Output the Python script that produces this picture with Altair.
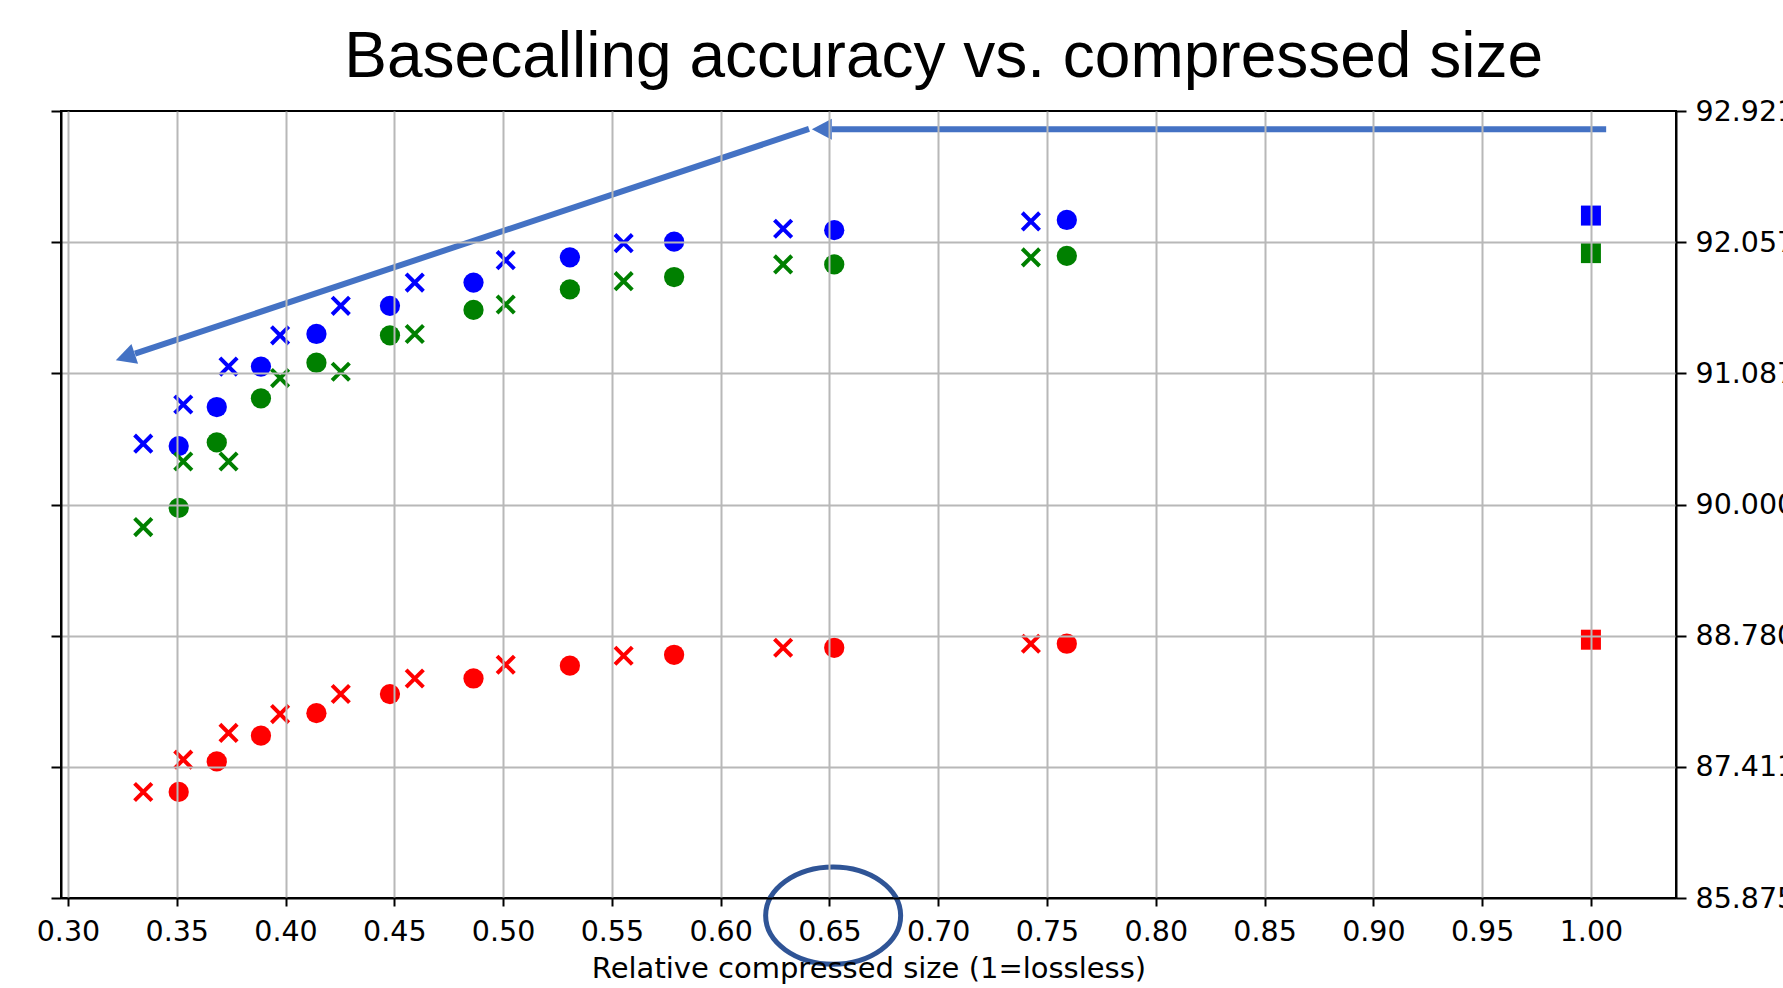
import altair as alt
import pandas as pd

# ---------------- data ----------------
TITLE = "Basecalling accuracy vs. compressed size"
X_TITLE = "Relative compressed size (1=lossless)"
series_names = ["series A", "series B", "series C"]
series_colors = ["#0000ff", "#008000", "#ff0000"]

x_cross = [0.3346, 0.3530, 0.3738, 0.3975, 0.4254, 0.4594, 0.5012, 0.5554, 0.6287, 0.7426]
x_circle = [0.3509, 0.3684, 0.3887, 0.4142, 0.4480, 0.4864, 0.5307, 0.5786, 0.6522, 0.7591]
x_square = [1.0]

a_cross = [90.52, 90.84, 91.14, 91.38, 91.60, 91.77, 91.93, 92.05, 92.15, 92.20]
a_circle = [90.50, 90.82, 91.14, 91.39, 91.60, 91.77, 91.95, 92.06, 92.14, 92.21]
a_square = [92.24]
b_cross = [89.80, 90.37, 90.37, 91.05, 91.10, 91.39, 91.61, 91.78, 91.90, 91.95]
b_circle = [89.97, 90.53, 90.89, 91.17, 91.38, 91.57, 91.72, 91.81, 91.90, 91.96]
b_square = [91.98]
c_cross = [87.13, 87.49, 87.78, 87.98, 88.19, 88.35, 88.49, 88.58, 88.66, 88.70]
c_circle = [87.13, 87.47, 87.75, 87.99, 88.19, 88.35, 88.48, 88.59, 88.66, 88.70]
c_square = [88.74]

x_ticks = [0.30, 0.35, 0.40, 0.45, 0.50, 0.55, 0.60, 0.65, 0.70, 0.75, 0.80, 0.85, 0.90, 0.95, 1.00]
# y axis is log10 of the error rate (100 - accuracy); ticks every 0.05 in log units
y_ticks = [0.85, 0.90, 0.95, 1.00, 1.05, 1.10, 1.15]

# annotation arrows (in data units: relative size, accuracy %)
arrow_x = [1.0070, 0.6406]
arrow_acc = [92.807, 92.808]
arrow_x2 = [0.6511, 0.3308]
arrow_acc2 = [92.807, 91.240]
head_x = [0.6419, 0.3220]
head_acc = [92.807, 91.190]
head_angle = [180.0, 161.6]
ellipse_x = [0.6517]
ellipse_acc = [85.655]

# ---------------- tables ----------------
def table(xs, groups):
    rows = []
    for name, vals in zip(series_names, groups):
        for x, v in zip(xs, vals):
            rows.append({"x": x, "acc": v, "series": name})
    return pd.DataFrame(rows)

cross_df = table(x_cross, [a_cross, b_cross, c_cross])
circle_df = table(x_circle, [a_circle, b_circle, c_circle])
square_df = table(x_square, [a_square, b_square, c_square])
arrow_df = pd.DataFrame({"x": arrow_x, "acc": arrow_acc, "x2": arrow_x2, "acc2": arrow_acc2})
head_df = pd.DataFrame({"x": head_x, "acc": head_acc, "angle": head_angle})
ellipse_df = pd.DataFrame({"x": ellipse_x, "acc": ellipse_acc})
title_df = pd.DataFrame({"text": [TITLE]})

LERR = "log(100 - datum.acc) / LN10"
LERR2 = "log(100 - datum.acc2) / LN10"

FONT = "DejaVu Sans"
ARROW = "#4472c4"
RING = "#2f5496"

x_scale = alt.Scale(domain=[0.2968, 1.0391], nice=False, zero=False)
y_scale = alt.Scale(domain=[0.85, 1.15], reverse=True, nice=False, zero=False)

x_enc = alt.X(
    "x:Q", scale=x_scale,
    axis=alt.Axis(values=x_ticks, format=".2f", title=X_TITLE, grid=True,
                  tickSize=8, labelPadding=11, titlePadding=9, labelFlush=False,
                  zindex=1),
)
y_enc = alt.Y(
    "lerr:Q", scale=y_scale,
    axis=alt.Axis(orient="left", values=y_ticks, labels=False, title=None, grid=True,
                  tickSize=10, zindex=1,
                  gridOpacity={"condition": {"test": "datum.value > 0.86 && datum.value < 1.14",
                                             "value": 1}, "value": 0}),
)
y_right = alt.Y(
    "lerr:Q", scale=y_scale,
    axis=alt.Axis(orient="right", values=y_ticks, title=None, grid=False,
                  labelExpr="format(100 - pow(10, datum.value), '.3f')",
                  tickSize=10, labelPadding=9, labelFlush=False, zindex=1),
)
color_enc = alt.Color("series:N",
                      scale=alt.Scale(domain=series_names, range=series_colors),
                      legend=None)

X_PATH = "M-1,-1L1,1M-1,1L1,-1"
HEAD_PATH = "M0,0L-1.9,-1L-1.9,1Z"
ELLIPSE_PATH = "M-1,0A1,0.72,0,1,0,1,0A1,0.72,0,1,0,-1,0Z"

circles = alt.Chart(circle_df).transform_calculate(lerr=LERR).mark_point(
    shape="circle", filled=True, size=410, opacity=1, strokeWidth=0
).encode(x=x_enc, y=y_enc, color=color_enc)

crosses = alt.Chart(cross_df).transform_calculate(lerr=LERR).mark_point(
    shape=X_PATH, filled=False, size=300, strokeWidth=4, opacity=1
).encode(x=x_enc, y=y_enc, color=color_enc)

squares = alt.Chart(square_df).transform_calculate(lerr=LERR).mark_point(
    shape="square", filled=True, size=400, opacity=1, strokeWidth=0
).encode(x=x_enc, y=y_enc, color=color_enc)

arrows = alt.Chart(arrow_df).transform_calculate(lerr=LERR, lerr2=LERR2).mark_rule(
    color=ARROW, strokeWidth=6, strokeCap="butt"
).encode(x=x_enc, y=y_enc, x2="x2:Q", y2="lerr2:Q")

heads = alt.Chart(head_df).transform_calculate(lerr=LERR).mark_point(
    shape=HEAD_PATH, filled=True, size=441, color=ARROW, opacity=1, strokeWidth=0
).encode(x=x_enc, y=y_enc, angle=alt.Angle("angle:Q", scale=None))

ring = alt.Chart(ellipse_df).transform_calculate(lerr=LERR).mark_point(
    shape=ELLIPSE_PATH, filled=False, size=18225, strokeWidth=5, color=RING, opacity=1
).encode(x=x_enc, y=y_enc)

title = alt.Chart(title_df).mark_text(
    font="Liberation Sans", fontSize=64, align="center", baseline="alphabetic", color="black"
).encode(text="text:N", x=alt.value(882.7), y=alt.value(-34))

inner = alt.layer(circles, crosses, squares, arrows, heads, ring, title)

right_axis = alt.Chart(circle_df).transform_calculate(lerr=LERR).mark_point(
    opacity=0
).encode(x=x_enc, y=y_right)

chart = alt.layer(inner, right_axis).resolve_scale(y="independent").properties(
    width=1615, height=787,
    autosize=alt.AutoSizeParams(type="none"),
    padding={"left": 61, "top": 111, "right": 107, "bottom": 90},
    background="white",
).configure_view(
    stroke="black", strokeWidth=2
).configure_axis(
    labelFont=FONT, labelFontSize=28.5, labelColor="black",
    tickColor="black", tickWidth=2,
    domainColor="black", domainWidth=2,
    gridColor="#b8b8b8", gridWidth=2,
    titleFont=FONT, titleFontSize=29, titleFontWeight="normal", titleColor="black",
)

chart.save("out.html", embed_options={"renderer": "svg", "actions": False})
